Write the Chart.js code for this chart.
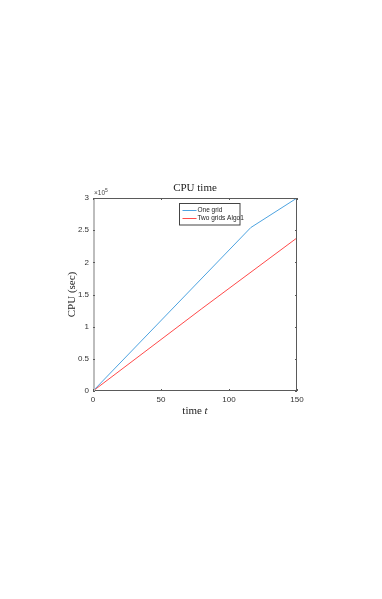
<!DOCTYPE html>
<html><head><meta charset="utf-8">
<script src="https://cdn.jsdelivr.net/npm/chart.js@4"></script>
<style>html,body{margin:0;padding:0;background:#fff}#wrap{width:382px;height:599px}</style>
</head><body><div id="wrap"><canvas id="c" width="382" height="599"></canvas></div>
<script>
const oneGridT = [0, 116, 150];
const oneGridCPU = [0, 254000, 300000];
const twoGridsT = [0, 80, 150];
const twoGridsCPU = [0, 128000, 238000];
const xTicks = [0, 50, 100, 150];
const yTicks = [0, 50000, 100000, 150000, 200000, 250000, 300000];
const seriesNames = ['One grid', 'Two grids Algo1'];
const titleText = 'CPU time';
const yLabel = 'CPU (sec)';
const xLabel = 'time ';

const toPts = (xs, ys) => xs.map((x, i) => ({x, y: ys[i]}));

const deco = {
  id: 'deco',
  afterDraw(chart) {
    const {ctx, chartArea: a, scales: {x, y}} = chart;
    ctx.save();
    ctx.lineWidth = 1;
    ctx.strokeStyle = '#5a5a5a';
    ctx.beginPath();
    ctx.moveTo(a.left, a.top + 0.5); ctx.lineTo(a.right, a.top + 0.5);
    ctx.moveTo(a.right - 0.5, a.top); ctx.lineTo(a.right - 0.5, a.bottom);
    ctx.moveTo(a.left, a.bottom - 0.5); ctx.lineTo(a.right, a.bottom - 0.5);
    ctx.stroke();
    ctx.strokeStyle = '#bdbdbd'; ctx.lineWidth = 2;
    ctx.beginPath(); ctx.moveTo(a.left + 1, a.top); ctx.lineTo(a.left + 1, a.bottom); ctx.stroke();
    ctx.strokeStyle = '#5a5a5a'; ctx.lineWidth = 1;
    ctx.beginPath();
    xTicks.forEach(v => {
      const px = Math.round(x.getPixelForValue(v)) + 0.5;
      ctx.moveTo(px, a.bottom); ctx.lineTo(px, a.bottom - 2);
      ctx.moveTo(px, a.top); ctx.lineTo(px, a.top + 2);
    });
    yTicks.forEach(v => {
      const py = Math.round(y.getPixelForValue(v)) + 0.5;
      ctx.moveTo(a.left, py); ctx.lineTo(a.left + 2, py);
      ctx.moveTo(a.right, py); ctx.lineTo(a.right - 2, py);
    });
    ctx.stroke();
    ctx.fillStyle = '#222';
    ctx.font = '11px "Liberation Serif", "DejaVu Serif", serif';
    ctx.textAlign = 'center'; ctx.textBaseline = 'middle';
    ctx.fillText(titleText, (a.left + a.right) / 2, 188);
    ctx.font = '11px "Liberation Serif", serif';
    const xlW = ctx.measureText(xLabel).width;
    ctx.font = 'italic 11px "Liberation Serif", serif';
    const tW = ctx.measureText('t').width;
    const cx = (a.left + a.right) / 2 - (xlW + tW) / 2;
    ctx.textAlign = 'left';
    ctx.font = '11px "Liberation Serif", serif';
    ctx.fillText(xLabel, cx, 411);
    ctx.font = 'italic 11px "Liberation Serif", serif';
    ctx.fillText('t', cx + xlW, 411);
    ctx.save();
    ctx.translate(72, (a.top + a.bottom) / 2);
    ctx.rotate(-Math.PI / 2);
    ctx.textAlign = 'center';
    ctx.textBaseline = 'middle';
    ctx.font = '11px "Liberation Serif", serif';
    ctx.fillText(yLabel, 0, 0);
    ctx.restore();
    ctx.fillStyle = '#444';
    ctx.textAlign = 'left'; ctx.textBaseline = 'alphabetic';
    ctx.font = '6.5px "Liberation Sans", Arial, sans-serif';
    ctx.fillText('\u00d710', a.left + 1, a.top - 3);
    ctx.font = '5px "Liberation Sans", Arial, sans-serif';
    ctx.fillText('5', a.left + 12, a.top - 6);
    const lx = 179.5, ly = 203.5, lw = 60.5, lh = 21.5;
    ctx.fillStyle = '#fff'; ctx.fillRect(lx, ly, lw, lh);
    ctx.strokeStyle = '#444'; ctx.lineWidth = 1; ctx.strokeRect(lx, ly, lw, lh);
    ctx.font = '6.5px "Liberation Sans", Arial, sans-serif';
    ctx.textBaseline = 'middle';
    chart.data.datasets.forEach((ds, i) => {
      const yy = ly + 7 + i * 8;
      ctx.strokeStyle = ds.borderColor; ctx.beginPath();
      ctx.moveTo(lx + 3, yy); ctx.lineTo(lx + 17, yy); ctx.stroke();
      ctx.fillStyle = '#222'; ctx.fillText(ds.label, lx + 18, yy);
    });
    ctx.restore();
  }
};

new Chart(document.getElementById('c'), {
  type: 'scatter',
  data: {
    datasets: [
      {label: seriesNames[0], data: toPts(oneGridT, oneGridCPU), showLine: true, borderColor: '#4da3e0', borderWidth: 1, pointRadius: 0, tension: 0},
      {label: seriesNames[1], data: toPts(twoGridsT, twoGridsCPU), showLine: true, borderColor: '#ff4a4a', borderWidth: 1, pointRadius: 0, tension: 0}
    ]
  },
  options: {
    responsive: false, animation: false, devicePixelRatio: 1,
    layout: {padding: {left: 0, top: 198, right: 85, bottom: 0}},
    plugins: {legend: {display: false}, tooltip: {enabled: false}},
    scales: {
      x: {
        type: 'linear', min: 0, max: 150,
        afterFit: s => { s.height = 208; },
        afterBuildTicks: s => { s.ticks = xTicks.map(v => ({value: v})); },
        grid: {display: false, drawTicks: false}, border: {display: false},
        ticks: {padding: 4, color: '#333', font: {family: '"Liberation Sans", Arial, sans-serif', size: 8}, maxRotation: 0}
      },
      y: {
        type: 'linear', min: 0, max: 300000,
        afterFit: s => { s.width = 93; },
        afterBuildTicks: s => { s.ticks = yTicks.map(v => ({value: v})); },
        grid: {display: false, drawTicks: false}, border: {display: false},
        ticks: {padding: 4, color: '#333', font: {family: '"Liberation Sans", Arial, sans-serif', size: 8}, callback: v => String(v / 100000)}
      }
    }
  },
  plugins: [deco]
});
</script></body></html>
